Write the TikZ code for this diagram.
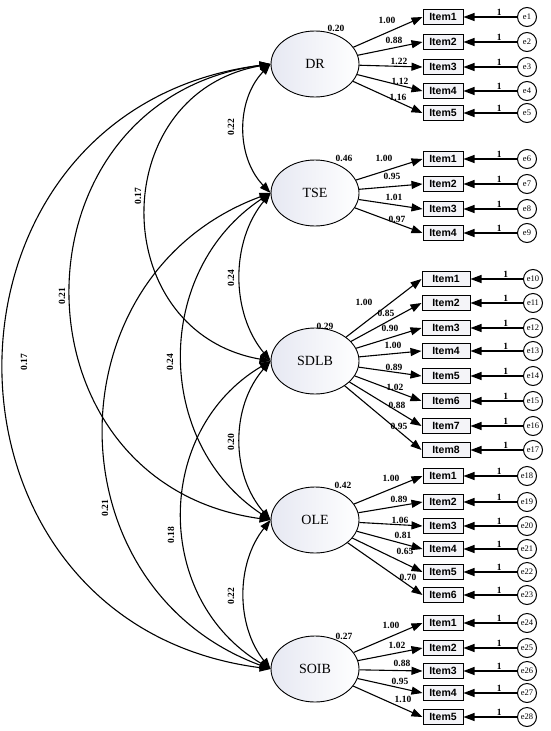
\documentclass[tikz,border=0pt]{standalone}
\usepackage{fontspec}
\setmainfont{Liberation Serif}
\newfontfamily\mysansfam{Liberation Sans}
\usetikzlibrary{shapes.geometric,arrows.meta}
\newcommand\myitem{\mysansfam\bfseries\fontsize{10.5}{12}\selectfont}
\newcommand\mynum{\bfseries\fontsize{9.5}{11}\selectfont}
\newcommand\mylat{\fontsize{14}{16}\selectfont}
\newcommand\myerr{\fontsize{8.5}{10}\selectfont}
\definecolor{latfill}{RGB}{230,232,242}
\definecolor{boxfill}{RGB}{244,244,248}
\tikzset{
  lat/.style={ellipse, draw, line width=0.9pt, minimum width=88pt, minimum height=66pt, inner sep=0pt, left color=latfill, right color=white, font=\mylat},
  obs/.style={draw, line width=1pt, minimum width=40pt, minimum height=15pt, inner sep=0pt, fill=boxfill, font=\myitem},
  obsw/.style={obs, minimum width=48pt},
  err/.style={circle, draw, line width=1pt, minimum size=19pt, inner sep=0pt, fill=white, font=\myerr},
  arr/.style={line width=1.1pt, -{Triangle[length=11pt,width=8pt]}},
  cov/.style={line width=1.1pt, {Triangle[length=11pt,width=8pt]}-{Triangle[length=11pt,width=8pt]}},
  num/.style={font=\mynum, inner sep=0pt},
}
% #1 latent, #2 item node, #3 item text, #4 y, #5 error no., #6 loading, #7 label x, #8 label y, #9 box style
\newcommand{\itemrow}[9]{%
  \node[#9] (#2) at (\bx,#4) {#3};
  \node[err] (e#5) at (\ex,#4) {e#5};
  \draw[arr] (e#5) -- node[num, pos=0.33, above=1pt] (one#5) {1} (#2.east);
  \draw[arr] (#1) -- (#2.west);
  \node[num] (ld#5) at (#7,#8) {#6};
}
\begin{document}
\begin{tikzpicture}[x=1pt,y=-1pt]
\useasboundingbox (0,0) rectangle (550,731);
% latent variables
\node[lat] (DR) at (315,64) {DR};
\node[lat] (TSE) at (315,193) {TSE};
\node[lat] (SDLB) at (315,361) {SDLB};
\node[lat] (OLE) at (315,520) {OLE};
\node[lat] (SOIB) at (315,669) {SOIB};
% variances
\node[num] (vDR) at (336,28) {0.20};
\node[num] (vTSE) at (344,158) {0.46};
\node[num] (vSDLB) at (325,326) {0.29};
\node[num] (vOLE) at (343,485) {0.42};
\node[num] (vSOIB) at (344,636) {0.27};
% DR
\def\bx{443}\def\ex{527}
\itemrow{DR}{dr1}{Item1}{17}{1}{1.00}{387}{20}{obs}
\itemrow{DR}{dr2}{Item2}{42}{2}{0.88}{394}{40}{obs}
\itemrow{DR}{dr3}{Item3}{67}{3}{1.22}{399}{61}{obs}
\itemrow{DR}{dr4}{Item4}{91}{4}{1.12}{400}{81}{obs}
\itemrow{DR}{dr5}{Item5}{113}{5}{1.16}{398}{97}{obs}
% TSE
\itemrow{TSE}{ts1}{Item1}{159}{6}{1.00}{384}{158}{obs}
\itemrow{TSE}{ts2}{Item2}{184}{7}{0.95}{392}{176}{obs}
\itemrow{TSE}{ts3}{Item3}{209}{8}{1.01}{394}{197}{obs}
\itemrow{TSE}{ts4}{Item4}{233}{9}{0.97}{397}{219}{obs}
% SDLB
\def\bx{446}\def\ex{533}
\itemrow{SDLB}{sd1}{Item1}{279}{10}{1.00}{364}{302}{obsw}
\itemrow{SDLB}{sd2}{Item2}{303}{11}{0.85}{386}{313}{obsw}
\itemrow{SDLB}{sd3}{Item3}{328}{12}{0.90}{390}{328}{obsw}
\itemrow{SDLB}{sd4}{Item4}{351}{13}{1.00}{393}{345}{obsw}
\itemrow{SDLB}{sd5}{Item5}{376}{14}{0.89}{394}{367}{obsw}
\itemrow{SDLB}{sd6}{Item6}{401}{15}{1.02}{395}{387}{obsw}
\itemrow{SDLB}{sd7}{Item7}{426}{16}{0.88}{397}{405}{obsw}
\itemrow{SDLB}{sd8}{Item8}{450}{17}{0.95}{399}{426}{obsw}
% OLE
\def\bx{443}\def\ex{527}
\itemrow{OLE}{ol1}{Item1}{476}{18}{1.00}{391}{478}{obs}
\itemrow{OLE}{ol2}{Item2}{502}{19}{0.89}{399}{499}{obs}
\itemrow{OLE}{ol3}{Item3}{526}{20}{1.06}{400}{520}{obs}
\itemrow{OLE}{ol4}{Item4}{549}{21}{0.81}{403}{535}{obs}
\itemrow{OLE}{ol5}{Item5}{572}{22}{0.65}{405}{551}{obs}
\itemrow{OLE}{ol6}{Item6}{595}{23}{0.70}{408}{577}{obs}
% SOIB
\itemrow{SOIB}{so1}{Item1}{623}{24}{1.00}{391}{625}{obs}
\itemrow{SOIB}{so2}{Item2}{648}{25}{1.02}{397}{645}{obs}
\itemrow{SOIB}{so3}{Item3}{671}{26}{0.88}{402}{663}{obs}
\itemrow{SOIB}{so4}{Item4}{693}{27}{0.95}{400}{681}{obs}
\itemrow{SOIB}{so5}{Item5}{717}{28}{1.10}{403}{699}{obs}
% covariances
\draw[cov] (DR.west) .. controls +(-34.7,36) and +(-34.7,-36) .. (TSE.west);
\draw[cov] (DR.west) .. controls +(-165.3,29.4) and +(-165.3,-29.4) .. (SDLB.west);
\draw[cov] (DR.west) .. controls +(-265.3,36.2) and +(-265.3,-36.2) .. (OLE.west);
\draw[cov] (DR.west) .. controls +(-354.7,45.7) and +(-354.7,-45.7) .. (SOIB.west);
\draw[cov] (TSE.west) .. controls +(-40,48.5) and +(-40,-48.5) .. (SDLB.west);
\draw[cov] (TSE.west) .. controls +(-117.3,77.4) and +(-117.3,-77.4) .. (OLE.west);
\draw[cov] (TSE.west) .. controls +(-221.3,81.5) and +(-221.3,-81.5) .. (SOIB.west);
\draw[cov] (SDLB.west) .. controls +(-40,45.8) and +(-40,-45.8) .. (OLE.west);
\draw[cov] (SDLB.west) .. controls +(-117.3,69.6) and +(-117.3,-69.6) .. (SOIB.west);
\draw[cov] (OLE.west) .. controls +(-34.7,43.6) and +(-34.7,-43.6) .. (SOIB.west);
\node[num, rotate=90] (c1) at (231,127) {0.22};
\node[num, rotate=90] (c2) at (138,196) {0.17};
\node[num, rotate=90] (c3) at (62,296) {0.21};
\node[num, rotate=90] (c4) at (24,362) {0.17};
\node[num, rotate=90] (c5) at (231,278) {0.24};
\node[num, rotate=90] (c6) at (170,362) {0.24};
\node[num, rotate=90] (c7) at (105,508) {0.21};
\node[num, rotate=90] (c8) at (231,442) {0.20};
\node[num, rotate=90] (c9) at (171,535) {0.18};
\node[num, rotate=90] (c10) at (231,596) {0.22};
\end{tikzpicture}
\end{document}
